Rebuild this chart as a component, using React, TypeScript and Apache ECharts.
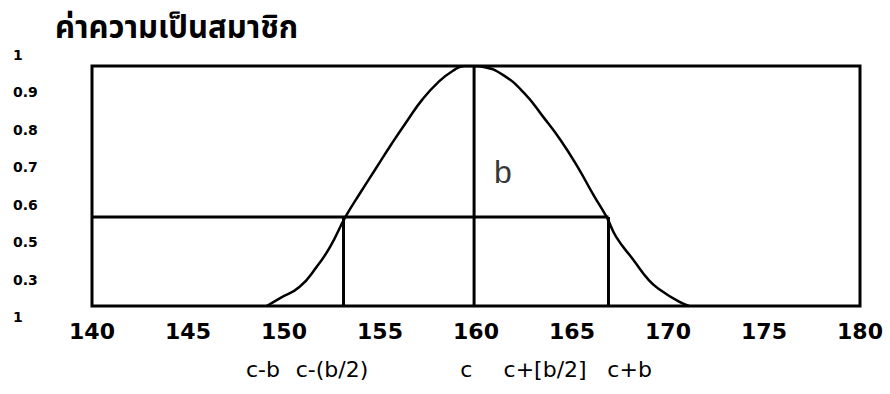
import React, { useEffect, useRef } from "react";
import * as echarts from "echarts";

// ---- data ----
const titleText = "ค่าความเป็นสมาชิก";
const xMin = 140;
const xMax = 180;
const xStep = 5;

const curveX = [149.1, 149.8, 150.8, 151.7, 152.4, 153.2, 154.0, 154.8, 155.6, 156.4, 157.2, 158.0, 158.8, 159.4, 159.9, 160.4, 161.4, 162.5, 163.5, 164.4, 165.3, 166.1, 166.8, 167.3, 168.2, 169.0, 169.6, 170.6, 171.1];
const curveY = [0, 0.033, 0.079, 0.163, 0.246, 0.371, 0.475, 0.575, 0.675, 0.77, 0.86, 0.93, 0.98, 1.0, 1.0, 0.996, 0.963, 0.888, 0.788, 0.692, 0.579, 0.465, 0.371, 0.288, 0.192, 0.108, 0.067, 0.017, 0];

const centerC = 159.9;
const halfLeft = 153.1;
const halfRight = 166.9;
const halfLevel = 0.371;
const bLabelPos = [161.4, 0.56];

const yTickLabels = ["1", "0.9", "0.8", "0.7", "0.6", "0.5", "0.3", "1"]; // top to bottom
const symLabels = ["c-b", "c-(b/2)", "c", "c+[b/2]", "c+b"];
const symPos = [148.9, 152.5, 159.5, 163.6, 168.0];

export default function App() {
  const ref = useRef<HTMLDivElement>(null);
  useEffect(() => {
    const chart = echarts.init(ref.current!, null, { renderer: "svg" });
    const black = "#000";
    const lineSeries = (data: number[][], w = 3) => ({
      type: "line",
      xAxisIndex: 0,
      yAxisIndex: 0,
      data,
      showSymbol: false,
      symbol: "none",
      lineStyle: { color: black, width: w },
      silent: true,
    });
    const option: any = {
      animation: false,
      backgroundColor: "#fff",
      title: {
        text: titleText,
        left: 50,
        top: 8,
        textStyle: {
          fontSize: 31,
          fontWeight: "bold",
          color: black,
          fontFamily: "'Noto Sans Thai', 'Noto Sans', 'DejaVu Sans', sans-serif",
        },
      },
      grid: [
        {
          left: 92,
          top: 66,
          width: 768,
          height: 240,
          show: true,
          borderColor: black,
          borderWidth: 3,
          backgroundColor: "transparent",
        },
        { left: 13, top: 55, width: 1, height: 262, show: false },
      ],
      xAxis: [
        {
          type: "value",
          gridIndex: 0,
          min: xMin,
          max: xMax,
          interval: xStep,
          axisLine: { show: false },
          axisTick: { show: false },
          splitLine: { show: false },
          axisLabel: {
            color: black,
            fontSize: 22,
            fontWeight: "bold",
            fontFamily: "'DejaVu Sans', sans-serif",
            margin: 14,
          },
        },
        {
          type: "value",
          gridIndex: 0,
          position: "bottom",
          offset: 40,
          min: xMin,
          max: xMax,
          axisLine: { show: false },
          axisTick: { show: false },
          splitLine: { show: false },
          axisLabel: {
            color: black,
            fontSize: 22,
            fontFamily: "'DejaVu Sans', sans-serif",
            margin: 12,
            customValues: symPos,
            showMinLabel: true,
            showMaxLabel: true,
            formatter: (v: number) => {
              const i = symPos.indexOf(v);
              return i >= 0 ? symLabels[i] : "";
            },
          },
        },
        {
          type: "value",
          gridIndex: 1,
          show: false,
          min: 0,
          max: 1,
        },
      ],
      yAxis: [
        {
          type: "value",
          gridIndex: 0,
          min: 0,
          max: 1,
          show: false,
        },
        {
          type: "value",
          gridIndex: 1,
          min: 0,
          max: yTickLabels.length - 1,
          interval: 1,
          axisLine: { show: false },
          axisTick: { show: false },
          splitLine: { show: false },
          axisLabel: {
            color: black,
            fontSize: 14,
            fontWeight: "bold",
            fontFamily: "'DejaVu Sans', sans-serif",
            margin: 0,
            align: "left",
            formatter: (v: number) => yTickLabels[yTickLabels.length - 1 - v] ?? "",
          },
        },
      ],
      series: [
        { ...lineSeries(curveX.map((x, i) => [x, curveY[i]]), 2.5), smooth: 0.5 },
        lineSeries([[centerC, 0], [centerC, 1]], 3),
        lineSeries([[halfLeft, 0], [halfLeft, halfLevel]], 3),
        lineSeries([[halfRight, 0], [halfRight, halfLevel]], 3),
        lineSeries([[xMin, halfLevel], [halfRight, halfLevel]], 3),
        {
          type: "scatter",
          xAxisIndex: 0,
          yAxisIndex: 0,
          data: [bLabelPos],
          symbolSize: 0,
          silent: true,
          label: {
            show: true,
            formatter: "b",
            position: "inside",
            color: black,
            fontSize: 32,
            fontFamily: "'Liberation Sans', Arial, sans-serif",
          },
        },
      ],
    };
    chart.setOption(option);
    return () => chart.dispose();
  }, []);
  return (
    <div
      ref={ref}
      style={{ position: "absolute", left: 0, top: 0, width: 890, height: 394, background: "#fff" }}
    />
  );
}
